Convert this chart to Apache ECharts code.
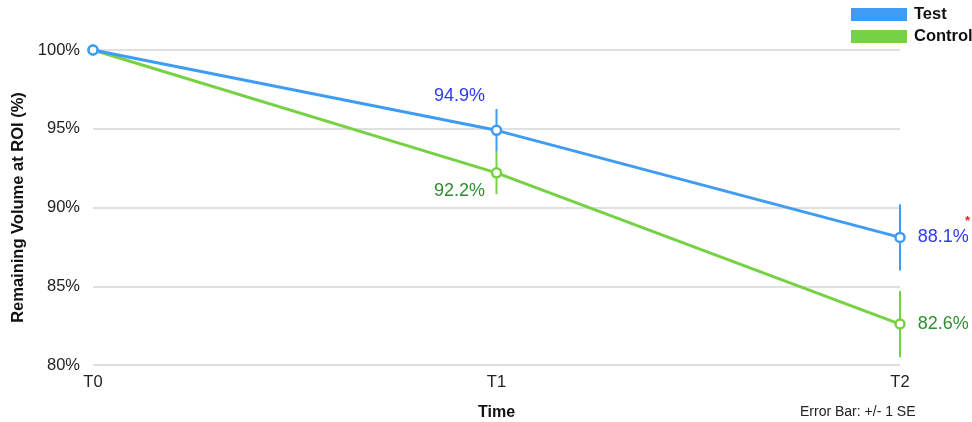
<!DOCTYPE html>
<html>
<head>
<meta charset="utf-8">
<script src="https://cdn.jsdelivr.net/npm/echarts@6/dist/echarts.min.js"></script>
<style>
  html, body { margin: 0; padding: 0; background: #fff; }
  #chart { width: 972px; height: 422px; }
</style>
</head>
<body>
<div id="chart"></div>
<script>
// Remaining volume over time, two groups, mean ± 1 SE
const timePoints = ['T0', 'T1', 'T2'];
const testValues = [100, 94.9, 88.1];
const controlValues = [100, 92.2, 82.6];
const testSE = [0, 1.35, 2.1];
const controlSE = [0, 1.35, 2.1];
const yTicks = { min: 80, max: 100, step: 5 };

const FONT = '"Liberation Sans", Arial, Helvetica, sans-serif';
const TEST_COLOR = '#3f9cf4';
const CONTROL_COLOR = '#77d144';
const TEST_LABEL = '#2a3bef';
const CONTROL_LABEL = '#2f8f2f';

// Per-point label placement: none at T0, offset above/below at T1, right at T2
function pointData(values, isTest, labelColor) {
  return values.map((v, i) => {
    const item = { value: v };
    if (i === 0) {
      item.label = { show: false };
    } else if (i === 1) {
      item.label = {
        show: true,
        position: isTest ? 'top' : 'bottom',
        offset: isTest ? [-37, -15] : [-37, -2],
        color: labelColor
      };
    } else {
      item.label = { show: true, position: 'right', distance: 12, color: labelColor };
    }
    return item;
  });
}

function errorBarSeries(values, se, color) {
  const data = values.map((v, i) => [i, v - se[i], v + se[i]]);
  return {
    type: 'custom',
    z: 1,
    silent: true,
    data: data,
    renderItem: function (params, api) {
      if (api.value(2) === api.value(1)) return null;
      const lo = Math.max(api.value(1), yTicks.min);
      const top = api.coord([api.value(0), api.value(2)]);
      const bot = api.coord([api.value(0), lo]);
      return {
        type: 'line',
        shape: { x1: top[0], y1: top[1], x2: bot[0], y2: bot[1] },
        style: { stroke: color, lineWidth: 2 }
      };
    }
  };
}

const chart = echarts.init(document.getElementById('chart'), null, { renderer: 'canvas' });

chart.setOption({
  animation: false,
  textStyle: { fontFamily: FONT },
  grid: { left: 93, right: 72, top: 50, bottom: 57, containLabel: false, outerBoundsMode: 'none' },
  legend: {
    orient: 'vertical',
    left: 846,
    top: 1,
    padding: [5, 0, 5, 5],
    itemWidth: 54,
    itemHeight: 11,
    itemGap: 5,
    icon: 'rect',
    textStyle: {
      fontFamily: FONT, fontSize: 16.5, fontWeight: 'bold', color: '#111',
      padding: [0, 0, 0, 3], overflow: 'none', width: 80
    },
    data: [
      { name: 'Test', itemStyle: { color: TEST_COLOR } },
      { name: 'Control', itemStyle: { color: CONTROL_COLOR } }
    ]
  },
  xAxis: {
    type: 'category',
    data: timePoints,
    boundaryGap: false,
    name: 'Time',
    nameLocation: 'middle',
    nameGap: 40,
    nameTextStyle: { fontFamily: FONT, fontSize: 16, fontWeight: 'bold', color: '#111' },
    axisLine: { show: false },
    axisTick: { show: false },
    axisLabel: { fontFamily: FONT, fontSize: 16.5, color: '#222', margin: 9 }
  },
  yAxis: {
    type: 'value',
    min: yTicks.min,
    max: yTicks.max,
    interval: yTicks.step,
    name: 'Remaining Volume at ROI (%)',
    nameLocation: 'middle',
    nameGap: 65,
    nameTextStyle: { fontFamily: FONT, fontSize: 16.5, fontWeight: 'bold', color: '#111' },
    axisLine: { show: false },
    axisTick: { show: false },
    axisLabel: { fontFamily: FONT, fontSize: 16.5, color: '#222', margin: 13, formatter: '{value}%' },
    splitLine: { show: true, lineStyle: { color: '#d6d6d6', width: 1.5 } }
  },
  series: [
    errorBarSeries(controlValues, controlSE, CONTROL_COLOR),
    errorBarSeries(testValues, testSE, TEST_COLOR),
    {
      name: 'Control',
      type: 'line',
      z: 3,
      data: pointData(controlValues, false, CONTROL_LABEL),
      symbol: 'circle',
      symbolSize: 9,
      color: CONTROL_COLOR,
      lineStyle: { color: CONTROL_COLOR, width: 3 },
      itemStyle: { color: '#fff', borderColor: CONTROL_COLOR, borderWidth: 2.5 },
      label: { fontFamily: FONT, fontSize: 18, formatter: p => p.value.toFixed(1) + '%' }
    },
    {
      name: 'Test',
      type: 'line',
      z: 4,
      data: pointData(testValues, true, TEST_LABEL),
      symbol: 'circle',
      symbolSize: 9,
      color: TEST_COLOR,
      lineStyle: { color: TEST_COLOR, width: 3 },
      itemStyle: { color: '#fff', borderColor: TEST_COLOR, borderWidth: 2.5 },
      label: { fontFamily: FONT, fontSize: 18, formatter: p => p.value.toFixed(1) + '%' }
    }
  ],
  graphic: [
    {
      type: 'text',
      left: 800,
      top: 405,
      style: { text: 'Error Bar: +/- 1 SE', font: '14px ' + FONT, fill: '#222' }
    },
    {
      type: 'text',
      left: 965,
      top: 215,
      style: { text: '*', font: 'bold 13px ' + FONT, fill: '#e8241c' }
    }
  ]
});
</script>
</body>
</html>
